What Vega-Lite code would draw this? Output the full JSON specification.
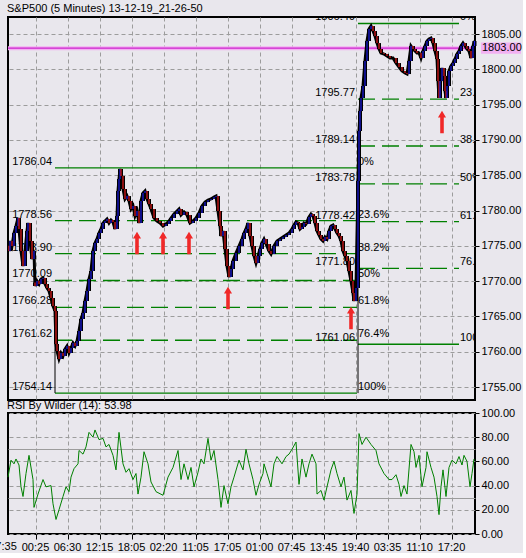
{
  "$schema": "https://vega.github.io/schema/vega-lite/v6.json",
  "padding": {"left": -12, "top": 2, "right": 0, "bottom": 0},
  "background": "#E9E7ED",
  "spacing": -2,
  "datasets": {
    "candles": [
      {"t":10,"o":1775.00,"p":1774.26},{"t":12,"o":1774.26,"p":1775.68},{"t":16,"o":1775.68,"p":1774.97},{"t":20,"o":1774.97,"p":1776.81},
      {"t":24,"o":1776.81,"p":1777.81},{"t":28,"o":1777.81,"p":1778.94},{"t":30,"o":1778.94,"p":1777.38},{"t":34,"o":1777.38,"p":1774.26},
      {"t":38,"o":1774.26,"p":1772.14},{"t":42,"o":1772.14,"p":1774.26},{"t":46,"o":1774.26,"p":1777.10},{"t":48,"o":1777.10,"p":1778.23},
      {"t":52,"o":1778.23,"p":1775.68},{"t":56,"o":1775.68,"p":1773.13},{"t":60,"o":1773.13,"p":1774.26},{"t":62,"o":1769.80,"p":1769.31},
      {"t":66,"o":1769.31,"p":1770.02},{"t":70,"o":1770.02,"p":1769.59},{"t":74,"o":1769.59,"p":1770.30},{"t":78,"o":1770.30,"p":1770.44},
      {"t":82,"o":1770.44,"p":1769.59},{"t":86,"o":1769.59,"p":1769.02},{"t":90,"o":1769.02,"p":1768.60},{"t":94,"o":1768.60,"p":1767.61},
      {"t":98,"o":1767.61,"p":1766.47},{"t":102,"o":1766.47,"p":1765.77},{"t":104,"o":1765.77,"p":1761.09},{"t":106,"o":1761.09,"p":1760.10},
      {"t":110,"o":1760.10,"p":1758.97},{"t":114,"o":1758.97,"p":1759.82},{"t":118,"o":1759.82,"p":1759.39},{"t":122,"o":1759.39,"p":1760.38},
      {"t":126,"o":1760.38,"p":1760.81},{"t":130,"o":1760.81,"p":1759.82},{"t":134,"o":1759.82,"p":1760.53},{"t":138,"o":1760.53,"p":1761.23},
      {"t":142,"o":1761.23,"p":1760.81},{"t":146,"o":1760.81,"p":1761.52},{"t":150,"o":1761.52,"p":1762.93},{"t":154,"o":1762.93,"p":1764.63},
      {"t":158,"o":1764.63,"p":1765.48},{"t":162,"o":1765.48,"p":1767.18},{"t":166,"o":1767.18,"p":1768.60},{"t":170,"o":1768.60,"p":1770.30},
      {"t":174,"o":1770.30,"p":1771.43},{"t":178,"o":1771.43,"p":1774.26},{"t":182,"o":1774.26,"p":1775.40},{"t":186,"o":1775.40,"p":1775.96},
      {"t":190,"o":1775.96,"p":1776.81},{"t":194,"o":1776.81,"p":1777.38},{"t":198,"o":1777.38,"p":1778.23},{"t":202,"o":1778.23,"p":1778.51},
      {"t":206,"o":1778.51,"p":1778.80},{"t":210,"o":1778.80,"p":1778.23},{"t":214,"o":1778.23,"p":1778.65},{"t":218,"o":1778.65,"p":1778.37},
      {"t":222,"o":1778.37,"p":1777.38},{"t":226,"o":1777.38,"p":1779.22},{"t":228,"o":1779.22,"p":1782.76},{"t":230,"o":1782.76,"p":1784.46},
      {"t":232,"o":1784.46,"p":1785.88},{"t":234,"o":1785.88,"p":1784.89},{"t":238,"o":1784.89,"p":1783.05},{"t":242,"o":1783.05,"p":1781.63},
      {"t":246,"o":1781.63,"p":1782.05},{"t":250,"o":1782.05,"p":1781.35},{"t":254,"o":1781.35,"p":1780.21},{"t":258,"o":1780.21,"p":1780.64},
      {"t":262,"o":1780.64,"p":1779.22},{"t":266,"o":1779.22,"p":1779.93},{"t":270,"o":1779.93,"p":1778.23},{"t":274,"o":1778.23,"p":1781.35},
      {"t":278,"o":1781.35,"p":1782.48},{"t":282,"o":1782.48,"p":1782.76},{"t":286,"o":1782.76,"p":1781.63},{"t":290,"o":1781.63,"p":1780.92},
      {"t":294,"o":1780.92,"p":1780.21},{"t":300,"o":1780.21,"p":1778.94},{"t":306,"o":1778.94,"p":1778.51},{"t":312,"o":1778.51,"p":1778.23},
      {"t":318,"o":1778.23,"p":1777.81},{"t":324,"o":1777.81,"p":1778.09},{"t":330,"o":1778.09,"p":1778.51},{"t":334,"o":1778.51,"p":1778.94},
      {"t":340,"o":1778.94,"p":1779.50},{"t":346,"o":1779.50,"p":1779.93},{"t":350,"o":1779.93,"p":1780.21},{"t":354,"o":1780.21,"p":1779.36},
      {"t":360,"o":1779.36,"p":1779.79},{"t":366,"o":1779.79,"p":1779.36},{"t":372,"o":1779.36,"p":1778.23},{"t":378,"o":1778.23,"p":1778.51},
      {"t":384,"o":1778.51,"p":1778.94},{"t":390,"o":1778.94,"p":1779.65},{"t":396,"o":1779.65,"p":1780.64},{"t":402,"o":1780.64,"p":1781.20},
      {"t":408,"o":1781.20,"p":1781.49},{"t":414,"o":1781.49,"p":1781.63},{"t":420,"o":1781.63,"p":1781.91},{"t":424,"o":1781.91,"p":1782.05},
      {"t":428,"o":1782.05,"p":1779.93},{"t":432,"o":1779.93,"p":1777.81},{"t":434,"o":1777.81,"p":1776.39},{"t":438,"o":1776.39,"p":1777.10},
      {"t":442,"o":1777.10,"p":1774.55},{"t":446,"o":1774.55,"p":1772.14},{"t":450,"o":1772.14,"p":1770.58},{"t":454,"o":1770.58,"p":1771.71},
      {"t":458,"o":1771.71,"p":1772.85},{"t":464,"o":1772.85,"p":1773.98},{"t":470,"o":1773.98,"p":1774.97},{"t":476,"o":1774.97,"p":1775.96},
      {"t":480,"o":1775.96,"p":1776.81},{"t":484,"o":1776.81,"p":1777.38},{"t":488,"o":1777.38,"p":1778.23},{"t":492,"o":1778.23,"p":1776.39},
      {"t":496,"o":1776.39,"p":1774.97},{"t":500,"o":1774.97,"p":1773.56},{"t":504,"o":1773.56,"p":1772.56},{"t":508,"o":1772.56,"p":1773.56},
      {"t":512,"o":1773.56,"p":1774.55},{"t":516,"o":1774.55,"p":1775.40},{"t":520,"o":1775.40,"p":1775.96},{"t":524,"o":1775.96,"p":1775.26},
      {"t":530,"o":1775.26,"p":1774.26},{"t":534,"o":1774.26,"p":1773.84},{"t":540,"o":1773.84,"p":1774.97},{"t":546,"o":1774.97,"p":1775.68},
      {"t":552,"o":1775.68,"p":1775.96},{"t":558,"o":1775.96,"p":1776.25},{"t":564,"o":1776.25,"p":1776.53},{"t":570,"o":1776.53,"p":1776.81},
      {"t":576,"o":1776.81,"p":1777.38},{"t":580,"o":1777.38,"p":1777.95},{"t":584,"o":1777.95,"p":1778.37},{"t":588,"o":1778.37,"p":1778.23},
      {"t":592,"o":1778.23,"p":1777.38},{"t":596,"o":1777.38,"p":1777.66},{"t":600,"o":1777.66,"p":1778.23},{"t":604,"o":1778.23,"p":1778.09},
      {"t":610,"o":1778.09,"p":1779.08},{"t":614,"o":1779.08,"p":1779.50},{"t":618,"o":1779.50,"p":1779.22},{"t":622,"o":1779.22,"p":1778.23},
      {"t":626,"o":1778.23,"p":1777.10},{"t":630,"o":1777.10,"p":1776.53},{"t":634,"o":1776.53,"p":1775.96},{"t":638,"o":1775.96,"p":1775.68},
      {"t":642,"o":1775.68,"p":1776.25},{"t":646,"o":1776.25,"p":1775.96},{"t":650,"o":1775.96,"p":1777.10},{"t":654,"o":1777.10,"p":1777.81},
      {"t":658,"o":1777.81,"p":1777.95},{"t":662,"o":1777.95,"p":1777.38},{"t":666,"o":1777.38,"p":1776.81},{"t":670,"o":1776.81,"p":1776.39},
      {"t":674,"o":1776.39,"p":1775.68},{"t":678,"o":1775.68,"p":1774.26},{"t":682,"o":1774.26,"p":1773.56},{"t":686,"o":1773.56,"p":1772.85},
      {"t":690,"o":1772.85,"p":1771.43},{"t":694,"o":1771.43,"p":1770.02},{"t":698,"o":1770.02,"p":1768.32},{"t":700,"o":1768.32,"p":1767.18},
      {"t":704,"o":1767.18,"p":1769.02},{"t":708,"o":1769.02,"p":1784.18},{"t":710,"o":1784.18,"p":1791.26},{"t":712,"o":1791.26,"p":1794.09},
      {"t":714,"o":1794.09,"p":1795.94},{"t":718,"o":1795.94,"p":1797.64},{"t":722,"o":1797.64,"p":1801.18},{"t":726,"o":1801.18,"p":1804.01},
      {"t":730,"o":1804.01,"p":1805.71},{"t":734,"o":1805.71,"p":1806.13},{"t":738,"o":1806.13,"p":1805.42},{"t":742,"o":1805.42,"p":1804.72},
      {"t":746,"o":1804.72,"p":1803.72},{"t":750,"o":1803.72,"p":1802.88},{"t":754,"o":1802.88,"p":1802.31},{"t":760,"o":1802.31,"p":1802.17},
      {"t":766,"o":1802.17,"p":1801.88},{"t":772,"o":1801.88,"p":1801.60},{"t":778,"o":1801.60,"p":1801.60},{"t":784,"o":1801.60,"p":1800.89},
      {"t":790,"o":1800.89,"p":1800.33},{"t":796,"o":1800.33,"p":1799.76},{"t":802,"o":1799.76,"p":1799.48},{"t":806,"o":1799.48,"p":1799.33},
      {"t":810,"o":1799.33,"p":1801.18},{"t":814,"o":1801.18,"p":1803.30},{"t":818,"o":1803.30,"p":1802.88},{"t":822,"o":1802.88,"p":1802.59},
      {"t":826,"o":1802.59,"p":1802.31},{"t":830,"o":1802.31,"p":1802.31},{"t":834,"o":1802.31,"p":1801.60},{"t":838,"o":1801.60,"p":1802.59},
      {"t":842,"o":1802.59,"p":1803.30},{"t":846,"o":1803.30,"p":1804.01},{"t":850,"o":1804.01,"p":1804.29},{"t":854,"o":1804.29,"p":1804.43},
      {"t":858,"o":1804.43,"p":1803.72},{"t":862,"o":1803.72,"p":1802.59},{"t":866,"o":1802.59,"p":1801.46},{"t":868,"o":1801.46,"p":1798.34},
      {"t":870,"o":1798.34,"p":1795.94},{"t":872,"o":1795.94,"p":1798.34},{"t":876,"o":1798.34,"p":1800.18},{"t":880,"o":1800.18,"p":1799.05},
      {"t":882,"o":1799.05,"p":1796.93},{"t":884,"o":1796.93,"p":1795.94},{"t":886,"o":1795.94,"p":1797.64},{"t":890,"o":1797.64,"p":1799.76},
      {"t":894,"o":1799.76,"p":1800.47},{"t":898,"o":1800.47,"p":1800.89},{"t":902,"o":1800.89,"p":1801.46},{"t":906,"o":1801.46,"p":1802.17},
      {"t":910,"o":1802.17,"p":1802.59},{"t":914,"o":1802.59,"p":1803.30},{"t":918,"o":1803.30,"p":1803.72},{"t":922,"o":1803.72,"p":1803.30},
      {"t":926,"o":1803.30,"p":1802.88},{"t":930,"o":1802.88,"p":1802.59},{"t":934,"o":1802.59,"p":1801.60},{"t":938,"o":1801.60,"p":1803.30},
      {"t":941,"o":1803.30,"p":1804.01}
    ],
    "rsi": [
      {"t":8,"r":47},{"t":14,"r":61},{"t":20,"r":58},{"t":24,"r":62},{"t":30,"r":57},{"t":34,"r":39},{"t":38,"r":31},{"t":44,"r":50},
      {"t":50,"r":65},{"t":58,"r":45},{"t":60,"r":22},{"t":68,"r":33},{"t":78,"r":45},{"t":84,"r":39},{"t":94,"r":40},{"t":98,"r":25},
      {"t":104,"r":12},{"t":110,"r":20},{"t":118,"r":31},{"t":124,"r":39},{"t":130,"r":35},{"t":134,"r":47},{"t":140,"r":54},{"t":148,"r":58},
      {"t":150,"r":69},{"t":158,"r":66},{"t":164,"r":72},{"t":170,"r":84},{"t":178,"r":80},{"t":182,"r":86},{"t":190,"r":78},{"t":198,"r":79},
      {"t":204,"r":72},{"t":210,"r":74},{"t":218,"r":65},{"t":224,"r":53},{"t":230,"r":84},{"t":238,"r":58},{"t":244,"r":51},{"t":250,"r":54},
      {"t":258,"r":45},{"t":264,"r":50},{"t":268,"r":33},{"t":274,"r":47},{"t":280,"r":68},{"t":288,"r":58},{"t":294,"r":43},{"t":304,"r":35},
      {"t":318,"r":32},{"t":328,"r":47},{"t":338,"r":55},{"t":348,"r":69},{"t":354,"r":45},{"t":360,"r":58},{"t":368,"r":45},{"t":374,"r":55},
      {"t":380,"r":39},{"t":388,"r":51},{"t":394,"r":62},{"t":400,"r":58},{"t":408,"r":79},{"t":414,"r":61},{"t":420,"r":69},{"t":428,"r":45},
      {"t":434,"r":22},{"t":440,"r":40},{"t":448,"r":25},{"t":454,"r":39},{"t":460,"r":47},{"t":470,"r":61},{"t":478,"r":53},{"t":484,"r":70},
      {"t":490,"r":58},{"t":498,"r":45},{"t":504,"r":32},{"t":510,"r":41},{"t":518,"r":50},{"t":520,"r":58},{"t":526,"r":50},{"t":534,"r":39},
      {"t":540,"r":58},{"t":546,"r":64},{"t":556,"r":58},{"t":564,"r":64},{"t":570,"r":66},{"t":576,"r":70},{"t":584,"r":76},{"t":590,"r":41},
      {"t":596,"r":62},{"t":604,"r":47},{"t":610,"r":58},{"t":616,"r":66},{"t":624,"r":58},{"t":626,"r":33},{"t":634,"r":36},{"t":640,"r":28},
      {"t":646,"r":39},{"t":654,"r":53},{"t":660,"r":60},{"t":666,"r":50},{"t":674,"r":39},{"t":680,"r":47},{"t":686,"r":28},{"t":694,"r":36},
      {"t":700,"r":17},{"t":706,"r":33},{"t":710,"r":83},{"t":716,"r":74},{"t":724,"r":80},{"t":734,"r":74},{"t":744,"r":69},{"t":750,"r":58},
      {"t":760,"r":50},{"t":770,"r":45},{"t":776,"r":45},{"t":784,"r":49},{"t":790,"r":41},{"t":794,"r":31},{"t":800,"r":40},{"t":806,"r":33},
      {"t":814,"r":74},{"t":820,"r":68},{"t":824,"r":55},{"t":830,"r":65},{"t":836,"r":39},{"t":844,"r":55},{"t":846,"r":68},{"t":854,"r":55},
      {"t":860,"r":47},{"t":866,"r":31},{"t":870,"r":16},{"t":874,"r":39},{"t":878,"r":53},{"t":884,"r":31},{"t":890,"r":55},{"t":896,"r":61},
      {"t":904,"r":58},{"t":910,"r":64},{"t":916,"r":57},{"t":920,"r":65},{"t":926,"r":60},{"t":932,"r":39},{"t":936,"r":50},{"t":940,"r":62}
    ],
    "fib": [
      {"t":102,"t2":706,"p":1786.04,"pct":0,"pl":"0%"},
      {"t":102,"t2":706,"p":1778.56,"pct":23.6,"pl":"23.6%"},
      {"t":102,"t2":706,"p":1773.90,"pct":38.2,"pl":"38.2%"},
      {"t":102,"t2":706,"p":1770.09,"pct":50,"pl":"50%"},
      {"t":102,"t2":706,"p":1766.28,"pct":61.8,"pl":"61.8%"},
      {"t":102,"t2":706,"p":1761.62,"pct":76.4,"pl":"76.4%"},
      {"t":102,"t2":706,"p":1754.14,"pct":100,"pl":"100%"},
      {"t":708,"t2":910,"p":1806.49,"pct":0,"pl":"0%"},
      {"t":708,"t2":910,"p":1795.77,"pct":23.6,"pl":"23.6%"},
      {"t":708,"t2":910,"p":1789.14,"pct":38.2,"pl":"38.2%"},
      {"t":708,"t2":910,"p":1783.78,"pct":50,"pl":"50%"},
      {"t":708,"t2":910,"p":1778.42,"pct":61.8,"pl":"61.8%"},
      {"t":708,"t2":910,"p":1771.80,"pct":76.4,"pl":"76.4%"},
      {"t":708,"t2":910,"p":1761.06,"pct":100,"pl":"100%"}
    ],
    "anchors": [
      {"t":102,"p":1754.14,"p2":1765.8},
      {"t":708,"p":1754.14,"p2":1769.0}
    ],
    "current": [{"t":8,"t2":942,"p":1803.0}],
    "curlabel": [{"t":954,"t2":1034,"p":1803.0,"hi":1803.8,"lo":1802.2}],
    "arrows": [
      {"t":266,"p":1775.40},{"t":318,"p":1775.40},{"t":370,"p":1775.40},
      {"t":448,"p":1767.61},{"t":694,"p":1764.77},{"t":876,"p":1792.53}
    ],
    "firsttick": [{"t":0,"r":0,"lbl":"17:35"}]
  },
  "vconcat": [
    {
      "width": 467,
      "height": 383,
      "title": {"text": "S&P500 (5 Minutes) 13-12-19_21-26-50", "anchor": "start", "frame": "group", "offset": 3, "fontSize": 11, "fontWeight": "normal", "font": "Liberation Sans", "color": "#000", "dx": -1},
      "encoding": {
        "x": {"field": "t", "type": "quantitative", "scale": {"domain": [8, 942], "nice": false, "zero": false},
              "axis": {"values": [64,128,192,256,320,384,448,512,576,640,704,768,832,896], "labels": false, "ticks": false, "domain": false, "grid": true}},
        "y": {"field": "p", "type": "quantitative", "scale": {"domain": [1753.16, 1807.41], "nice": false, "zero": false},
              "axis": {"orient": "right", "values": [1755,1760,1765,1770,1775,1780,1785,1790,1795,1800,1805], "format": ".2f", "grid": true}}
      },
      "layer": [
        {
          "data": {"name": "fib"},
          "mark": {"type": "rule", "color": "#008000", "strokeWidth": 1.3},
          "encoding": {
            "x2": {"field": "t2"},
            "strokeDash": {"condition": {"test": "datum.pct == 0 || datum.pct == 100", "value": [1, 0]}, "value": [17, 7]}
          }
        },
        {
          "data": {"name": "anchors"},
          "mark": {"type": "rule", "color": "#000", "strokeWidth": 1},
          "encoding": {"y2": {"field": "p2"}}
        },
        {
          "data": {"name": "current"},
          "mark": {"type": "rule", "color": "#F2B0F2", "strokeWidth": 4},
          "encoding": {"x2": {"field": "t2"}}
        },
        {
          "data": {"name": "current"},
          "mark": {"type": "rule", "color": "#CC22CC", "strokeWidth": 1.2},
          "encoding": {"x2": {"field": "t2"}}
        },
        {
          "data": {"name": "fib"},
          "mark": {"type": "text", "align": "right", "baseline": "alphabetic", "dx": -3, "dy": -3, "fontSize": 11, "font": "Liberation Sans", "color": "#000", "clip": true},
          "encoding": {"text": {"field": "p", "format": ".2f"}}
        },
        {
          "data": {"name": "fib"},
          "mark": {"type": "text", "align": "left", "baseline": "alphabetic", "dx": 1, "dy": -3, "fontSize": 11, "font": "Liberation Sans", "color": "#000", "clip": true},
          "encoding": {
            "x": {"field": "t2", "type": "quantitative", "scale": {"domain": [8, 942], "nice": false, "zero": false}},
            "text": {"field": "pl"}
          }
        },
        {
          "data": {"name": "candles"},
          "mark": {"type": "line", "color": "#000", "strokeWidth": 3},
          "encoding": {}
        },
        {
          "data": {"name": "candles"},
          "mark": {"type": "rule", "color": "#000", "strokeWidth": 4},
          "encoding": {"y2": {"field": "o"}}
        },
        {
          "data": {"name": "candles"},
          "mark": {"type": "rule", "strokeWidth": 1.2},
          "encoding": {
            "y2": {"field": "o"},
            "color": {"condition": {"test": "datum.p >= datum.o", "value": "#1A1AE6"}, "value": "#E61A1A"}
          }
        },
        {
          "data": {"name": "arrows"},
          "mark": {"type": "point", "shape": "M0,-1L0.36,-0.4L0.16,-0.4L0.16,1L-0.16,1L-0.16,-0.4L-0.36,-0.4Z", "filled": true, "color": "#F02828", "opacity": 1, "size": 500}
        },
        {
          "data": {"name": "curlabel"},
          "mark": {"type": "rect", "color": "#F2B0F2", "clip": false},
          "encoding": {
            "x2": {"field": "t2"},
            "y": {"field": "hi", "type": "quantitative", "scale": {"domain": [1753.16, 1807.41], "nice": false, "zero": false}},
            "y2": {"field": "lo"}
          }
        },
        {
          "data": {"name": "curlabel"},
          "mark": {"type": "text", "align": "left", "baseline": "middle", "dx": 1, "fontSize": 11, "font": "Liberation Sans", "color": "#000", "clip": false},
          "encoding": {"text": {"field": "p", "format": ".2f"}}
        }
      ]
    },
    {
      "width": 467,
      "height": 121,
      "title": {"text": "RSI By Wilder (14): 53.98", "anchor": "start", "frame": "group", "offset": -4, "fontSize": 11, "fontWeight": "normal", "font": "Liberation Sans", "color": "#000", "dx": -1},
      "encoding": {
        "x": {"field": "t", "type": "quantitative", "scale": {"domain": [8, 942], "nice": false, "zero": false},
              "axis": {"values": [64,128,192,256,320,384,448,512,576,640,704,768,832,896],
                       "labelExpr": "['17:35','00:25','06:30','12:15','18:05','02:20','11:05','17:05','01:00','07:45','13:45','19:40','03:35','11:10','17:20'][round(datum.value/64)]",
                       "tickSize": 5, "labelPadding": 2, "labelOffset": -1, "domain": false, "grid": true, "labelFlush": false, "labelOverlap": false}},
        "y": {"field": "r", "type": "quantitative", "scale": {"domain": [0, 100], "nice": false, "zero": false},
              "axis": {"orient": "right", "values": [0,20,30,40,60,70,80,100], "grid": true,
                       "labelExpr": "datum.value == 30 || datum.value == 70 ? '' : format(datum.value, '.2f')",
                       "tickOpacity": {"condition": {"test": "datum.value == 30 || datum.value == 70", "value": 0}, "value": 1},
                       "gridDash": {"condition": {"test": "datum.value == 30 || datum.value == 70", "value": []}, "value": [4, 3]}}}
      },
      "layer": [
        {
          "data": {"name": "rsi"},
          "mark": {"type": "line", "color": "#008000", "strokeWidth": 1}
        },
        {
          "data": {"name": "firsttick"},
          "mark": {"type": "text", "align": "center", "baseline": "top", "dx": -1, "dy": 7, "fontSize": 11, "font": "Liberation Sans", "color": "#000", "clip": false},
          "encoding": {"text": {"field": "lbl"}}
        }
      ]
    }
  ],
  "config": {
    "view": {"stroke": "#000", "strokeWidth": 2, "fill": "#E9E7ED"},
    "font": "Liberation Sans",
    "axis": {"labelFont": "Liberation Sans", "labelFontSize": 11, "labelColor": "#000", "tickColor": "#000", "tickSize": 4, "labelPadding": 2, "domain": false, "gridColor": "#9C9C9C", "gridDash": [4, 3], "title": null},
    "title": {"font": "Liberation Sans"}
  }
}
